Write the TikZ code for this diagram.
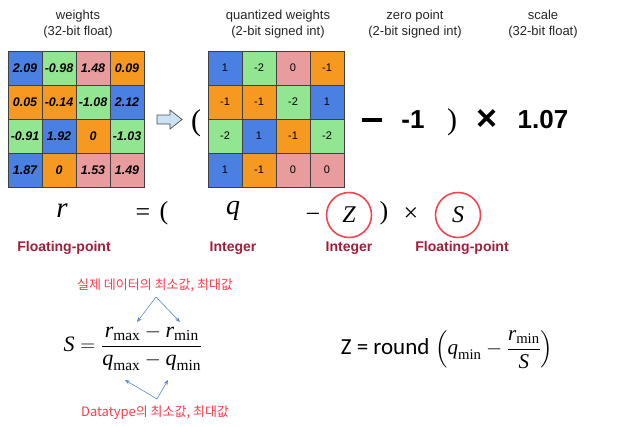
\documentclass[tikz,border=0pt]{standalone}
\usepackage{fontspec}
\usepackage{amsmath}
\setmainfont{Liberation Sans}
\newfontfamily\tms{Liberation Serif}
\newfontfamily\kr{Noto Sans CJK KR}
\newfontfamily\carl{Carlito}
\usetikzlibrary{arrows.meta}
\definecolor{cb}{RGB}{74,128,226}
\definecolor{cg}{RGB}{146,230,146}
\definecolor{cp}{RGB}{232,156,158}
\definecolor{co}{RGB}{246,153,32}
\definecolor{dred}{RGB}{160,30,58}
\definecolor{kred}{RGB}{250,60,75}
\definecolor{cred}{RGB}{240,70,80}
\definecolor{ablue}{RGB}{90,135,205}
\definecolor{lblue}{RGB}{205,225,245}
\newcommand{\vv}[1]{\text{\tms\itshape #1}}
\newcommand{\vs}[1]{\text{\tms #1}}
\begin{document}
\begin{tikzpicture}[x=1pt,y=-1pt,
  cell/.style={draw=black!75,line width=0.7pt,minimum size=34pt,inner sep=0pt},
  toplabel/.style={font=\fontsize{13}{16}\selectfont,align=center,text=black!85},
  bigsym/.style={font=\fontsize{26}{28}\selectfont\bfseries},
  eqsym/.style={font=\fontsize{26}{28}\selectfont\tms},
  kind/.style={font=\fontsize{14}{16}\selectfont\bfseries,text=dred},
  circ/.style={draw=cred,line width=1.6pt,circle,minimum size=45pt,inner sep=0pt},
  kor/.style={font=\fontsize{13}{15}\selectfont\kr,text=kred},
  blarrow/.style={draw=ablue,line width=0.6pt,-{Stealth[length=5pt,width=4pt]}}]
\useasboundingbox (0,0) rectangle (620,426);
% labels
\node[toplabel] (lw) at (78,24) {weights\\(32-bit float)};
\node[toplabel] (lq) at (278,24) {quantized weights\\(2-bit signed int)};
\node[toplabel] (lz) at (415,24) {zero point\\(2-bit signed int)};
\node[toplabel] (ls) at (543,24) {scale\\(32-bit float)};
% weights grid
\foreach \rowlist [count=\i] in {{cb/2.09,cg/-0.98,cp/1.48,co/0.09},{co/0.05,co/-0.14,cg/-1.08,cb/2.12},{cg/-0.91,cb/1.92,co/0,cg/-1.03},{cb/1.87,co/0,cp/1.53,cp/1.49}}
  \foreach \col/\val [count=\j] in \rowlist
    \node[cell,fill=\col,font=\fontsize{12.5}{14}\selectfont\bfseries\itshape] (w\i\j) at ({25+34*(\j-1)},{68+34*(\i-1)}) {\val};
% quantized grid
\foreach \rowlist [count=\i] in {{cb/1,cg/-2,cp/0,co/-1},{co/-1,co/-1,cg/-2,cb/1},{cg/-2,cb/1,co/-1,cg/-2},{cb/1,co/-1,cp/0,cp/0}}
  \foreach \col/\val [count=\j] in \rowlist
    \node[cell,fill=\col,font=\fontsize{11}{13}\selectfont] (q\i\j) at ({225+34*(\j-1)},{68+34*(\i-1)}) {\val};
% hollow arrow
\draw[draw=black!70,fill=lblue,line width=0.7pt] (157,115) -- (170,115) -- (170,110) -- (182,119.5) -- (170,129) -- (170,124) -- (157,124) -- cycle;
% top equation
\node[font=\fontsize{30}{32}\selectfont\tms] (lp1) at (196,123) {(};
\node[inner sep=0pt] (mn1) at (372,120) {\rule{20pt}{3.2pt}};
\node[bigsym] (zv) at (413,120) {-1};
\node[font=\fontsize{30}{32}\selectfont\tms] (rp1) at (452,122) {)};
\node[font=\fontsize{36}{38}\selectfont\bfseries] (tm1) at (487,120) {×};
\node[bigsym] (sv) at (543,120) {1.07};
% second equation
\node[eqsym,font=\fontsize{29}{30}\selectfont\tms\itshape] (r) at (62,211) {r};
\node[eqsym] (eq) at (143,215) {=};
\node[eqsym] (lp2) at (164,213) {(};
\node[eqsym,font=\fontsize{28}{30}\selectfont\tms\itshape] (q) at (233,211) {q};
\node[eqsym] (mn2) at (313,218) {−};
\node[circ,font=\fontsize{24}{26}\selectfont\tms\itshape] (Z) at (349,215) {Z};
\node[eqsym] (rp2) at (384,213) {)};
\node[eqsym] (tm2) at (411,215) {×};
\node[circ,font=\fontsize{24}{26}\selectfont\tms\itshape] (S) at (458,215) {S};
\node[kind] (k1) at (64,248) {Floating-point};
\node[kind] (k2) at (233,248) {Integer};
\node[kind] (k3) at (349,248) {Integer};
\node[kind] (k4) at (462,248) {Floating-point};
% S formula
\node[kor] (kt) at (155,285) {실제 데이터의 최소값, 최대값};
\node[font=\fontsize{22}{26}\selectfont] (fs) at (133,348) {$\vv{S}=\dfrac{\vv{r}_{\vs{max}}-\vv{r}_{\vs{min}}}{\vv{q}_{\vs{max}}-\vv{q}_{\vs{min}}}$};
\node[kor] (kb) at (155,413) {Datatype의 최소값, 최대값};
\coordinate (ta) at (156,297);
\coordinate (ba) at (157,399);
\coordinate (rmax) at (137,322);
\coordinate (rmin) at (180,322);
\coordinate (qmax) at (125,380);
\coordinate (qmin) at (168,380);
\draw[blarrow] (ta) -- (rmax);
\draw[blarrow] (ta) -- (rmin);
\draw[blarrow] (ba) -- (qmax);
\draw[blarrow] (ba) -- (qmin);
% Z formula
\node[font=\fontsize{21}{24}\selectfont] (fz) at (447,350) {{\carl\fontsize{23}{26}\selectfont Z = round} $\left(\vv{q}_{\vs{min}}-\dfrac{\vv{r}_{\vs{min}}}{\vv{S}}\right)$};
\end{tikzpicture}
\end{document}
